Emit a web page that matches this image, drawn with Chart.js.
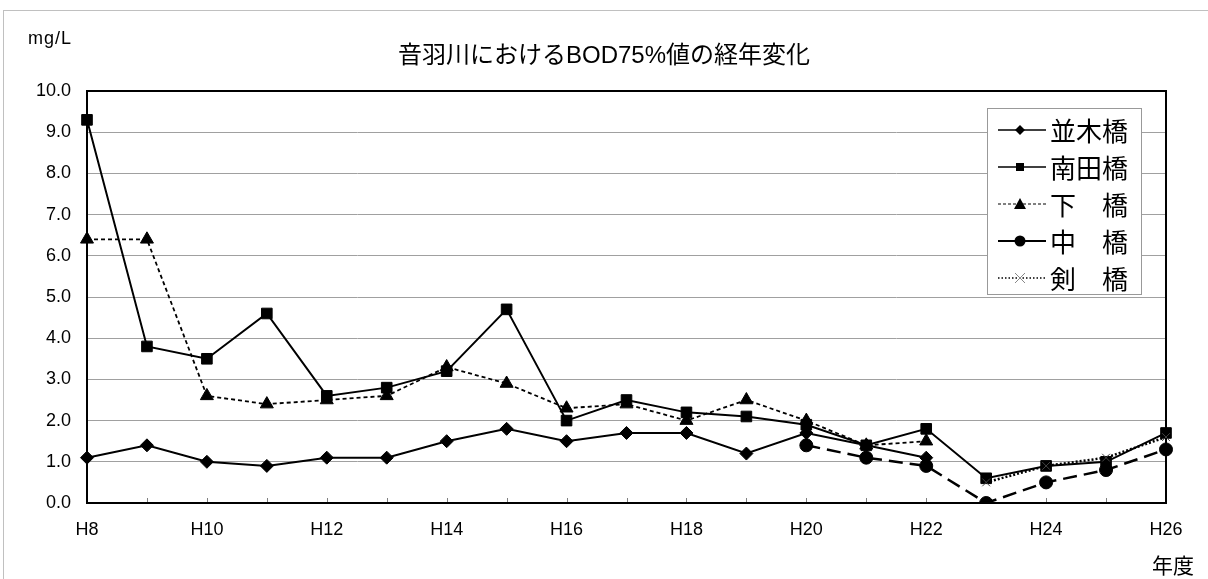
<!DOCTYPE html>
<html lang="ja">
<head>
<meta charset="utf-8">
<title>音羽川におけるBOD75%値の経年変化</title>
<script src="https://cdn.jsdelivr.net/npm/chart.js@4"></script>
<style>
body { margin: 0; background: #fff; overflow: hidden; }
#wrap { position: relative; width: 1208px; height: 579px; font-family: "Liberation Sans", "Noto Sans CJK JP", sans-serif; color: #000; }
#frame { position: absolute; left: 3px; top: 10px; width: 1230px; height: 620px; border: 1px solid #c0c0c0; }
#canvas { position: absolute; left: 0; top: 0; }
#title { position: absolute; left: 0; top: 35px; width: 1208px; text-align: center; font-size: 24px; white-space: nowrap; }
#unit { position: absolute; left: 28px; top: 28px; font-size: 18px; letter-spacing: 1px; }
#xname { position: absolute; left: 1152px; top: 549px; font-size: 21px; font-family: "Noto Sans CJK JP"; }
#legend { position: absolute; left: 987px; top: 108px; width: 153px; height: 185px; border: 1px solid #999; background: #fff; }
.row { position: absolute; left: 10px; height: 37px; display: flex; align-items: center; }
.row canvas { width: 48px; height: 20px; margin-right: 4px; }
.row span { font-family: "Noto Sans CJK JP"; font-size: 26px; line-height: 37px; white-space: pre; }
</style>
</head>
<body>
<div id="wrap">
  <div id="frame"></div>
  <canvas id="canvas" width="1208" height="579"></canvas>
  <div id="title">音羽川におけるBOD75%値の経年変化</div>
  <div id="unit">mg/L</div>
  <div id="xname">年度</div>
  <div id="legend"></div>
</div>
<script>
//data
var years = ['H8','H9','H10','H11','H12','H13','H14','H15','H16','H17','H18','H19','H20','H21','H22','H23','H24','H25','H26'];
var namikiBashi = [1.1,1.4,1.0,0.9,1.1,1.1,1.5,1.8,1.5,1.7,1.7,1.2,1.7,1.4,1.1,null,null,null,null];
var minamidaBashi = [9.3,3.8,3.5,4.6,2.6,2.8,3.2,4.7,2.0,2.5,2.2,2.1,1.9,1.4,1.8,0.6,0.9,1.0,1.7];
var shimoBashi = [6.4,6.4,2.6,2.4,2.5,2.6,3.3,2.9,2.3,2.4,2.0,2.5,2.0,1.4,1.5,null,null,null,null];
var nakaBashi = [null,null,null,null,null,null,null,null,null,null,null,null,1.4,1.1,0.9,0.0,0.5,0.8,1.3];
var tsurugiBashi = [null,null,null,null,null,null,null,null,null,null,null,null,null,null,null,0.5,0.9,1.1,1.6];
var seriesNames = ['並木橋','南田橋','下　橋','中　橋','剣　橋'];
var yTicks = [0,1,2,3,4,5,6,7,8,9,10];

//small tick marks on the x axis + black frame round the plot
var plotFrame = {
    id: 'plotFrame',
    beforeDatasetsDraw: function (chart) {
        var ctx = chart.ctx, area = chart.chartArea, xs = chart.scales.x;
        ctx.save();
        ctx.strokeStyle = '#808080';
        ctx.lineWidth = 1;
        for (var i = 1; i < years.length - 1; i++) {
            var px = Math.round(xs.getPixelForTick(i)) + 0.5;
            ctx.beginPath();
            ctx.moveTo(px, area.bottom);
            ctx.lineTo(px, area.bottom - 5);
            ctx.stroke();
        }
        ctx.strokeStyle = '#000';
        ctx.lineWidth = 2;
        ctx.strokeRect(area.left, area.top, area.right - area.left, area.bottom - area.top);
        ctx.restore();
    }
};

function makeSet(label, data, style, radius, dash, width, order) {
    return {
        label: label,
        data: data,
        borderColor: '#000',
        backgroundColor: '#000',
        borderWidth: width,
        borderDash: dash,
        pointStyle: style,
        pointRadius: radius,
        pointHoverRadius: radius,
        pointBorderWidth: 1,
        tension: 0,
        spanGaps: false,
        order: order
    };
}

var crossSet = makeSet(seriesNames[4], tsurugiBashi, 'crossRot', 5.5, [2, 2], 2.5, 1);
crossSet.pointBorderColor = '#444';

var ctx = document.getElementById('canvas').getContext('2d');
window.myLine = new Chart(ctx, {
    type: 'line',
    data: {
        labels: years,
        datasets: [
            makeSet(seriesNames[0], namikiBashi, 'rectRot', 6.5, [], 2, 5),
            makeSet(seriesNames[1], minamidaBashi, 'rect', 7.5, [], 2, 4),
            makeSet(seriesNames[2], shimoBashi, 'triangle', 7.5, [4, 3], 1.8, 3),
            makeSet(seriesNames[3], nakaBashi, 'circle', 6.5, [14, 7], 2.5, 2),
            crossSet
        ]
    },
    options: {
        responsive: false,
        animation: false,
        layout: { padding: { top: 91, right: 42, left: 0, bottom: 0 } },
        plugins: { legend: { display: false }, title: { display: false }, tooltip: { enabled: false } },
        scales: {
            x: {
                offset: false,
                grid: { display: false, drawTicks: false },
                border: { display: true, color: '#000', width: 2 },
                ticks: {
                    autoSkip: false,
                    maxRotation: 0,
                    padding: 16,
                    color: '#000',
                    font: { family: 'Liberation Sans', size: 18 },
                    callback: function (v, i) { return i % 2 === 0 ? years[i] : ''; }
                },
                afterFit: function (scale) { scale.height = 76; }
            },
            y: {
                min: 0,
                max: 10,
                afterBuildTicks: function (scale) { scale.ticks = yTicks.map(function (v) { return { value: v }; }); },
                grid: { color: '#a0a0a0', lineWidth: 1, drawTicks: false },
                border: { display: true, color: '#000', width: 2 },
                ticks: {
                    padding: 16,
                    color: '#000',
                    font: { family: 'Liberation Sans', size: 18 },
                    callback: function (v) { return v.toFixed(1); }
                },
                afterFit: function (scale) { scale.width = 87; }
            }
        }
    },
    plugins: [plotFrame]
});

//legend drawn the excel way: line - marker - line
var legendStyles = [
    { marker: 'diamond', dash: [], width: 1.5 },
    { marker: 'square', dash: [], width: 1.5 },
    { marker: 'triangle', dash: [3, 2], width: 1 },
    { marker: 'circle', dash: [], width: 2 },
    { marker: 'cross', dash: [1.5, 2], width: 1.5 }
];

function drawLegendIcon(cv, st) {
    var c = cv.getContext('2d');
    c.strokeStyle = '#000';
    c.fillStyle = '#000';
    c.lineWidth = st.width;
    c.setLineDash(st.dash);
    c.beginPath();
    c.moveTo(0, 10);
    c.lineTo(48, 10);
    c.stroke();
    c.setLineDash([]);
    c.beginPath();
    if (st.marker === 'diamond') {
        c.moveTo(22, 5); c.lineTo(27, 10); c.lineTo(22, 15); c.lineTo(17, 10); c.closePath(); c.fill();
    } else if (st.marker === 'square') {
        c.fillRect(18, 6, 8, 8);
    } else if (st.marker === 'triangle') {
        c.moveTo(22, 4); c.lineTo(28, 15); c.lineTo(16, 15); c.closePath(); c.fill();
    } else if (st.marker === 'circle') {
        c.arc(22, 10, 5.5, 0, Math.PI * 2); c.fill();
    } else {
        c.strokeStyle = '#888';
        c.lineWidth = 1;
        c.moveTo(17, 5); c.lineTo(27, 15); c.moveTo(27, 5); c.lineTo(17, 15); c.stroke();
    }
}

var legend = document.getElementById('legend');
seriesNames.forEach(function (name, index) {
    var row = document.createElement('div');
    row.className = 'row';
    row.style.top = (2 + index * 37) + 'px';
    var cv = document.createElement('canvas');
    cv.width = 48;
    cv.height = 20;
    drawLegendIcon(cv, legendStyles[index]);
    var span = document.createElement('span');
    span.textContent = name;
    row.appendChild(cv);
    row.appendChild(span);
    legend.appendChild(row);
});
</script>
</body>
</html>
